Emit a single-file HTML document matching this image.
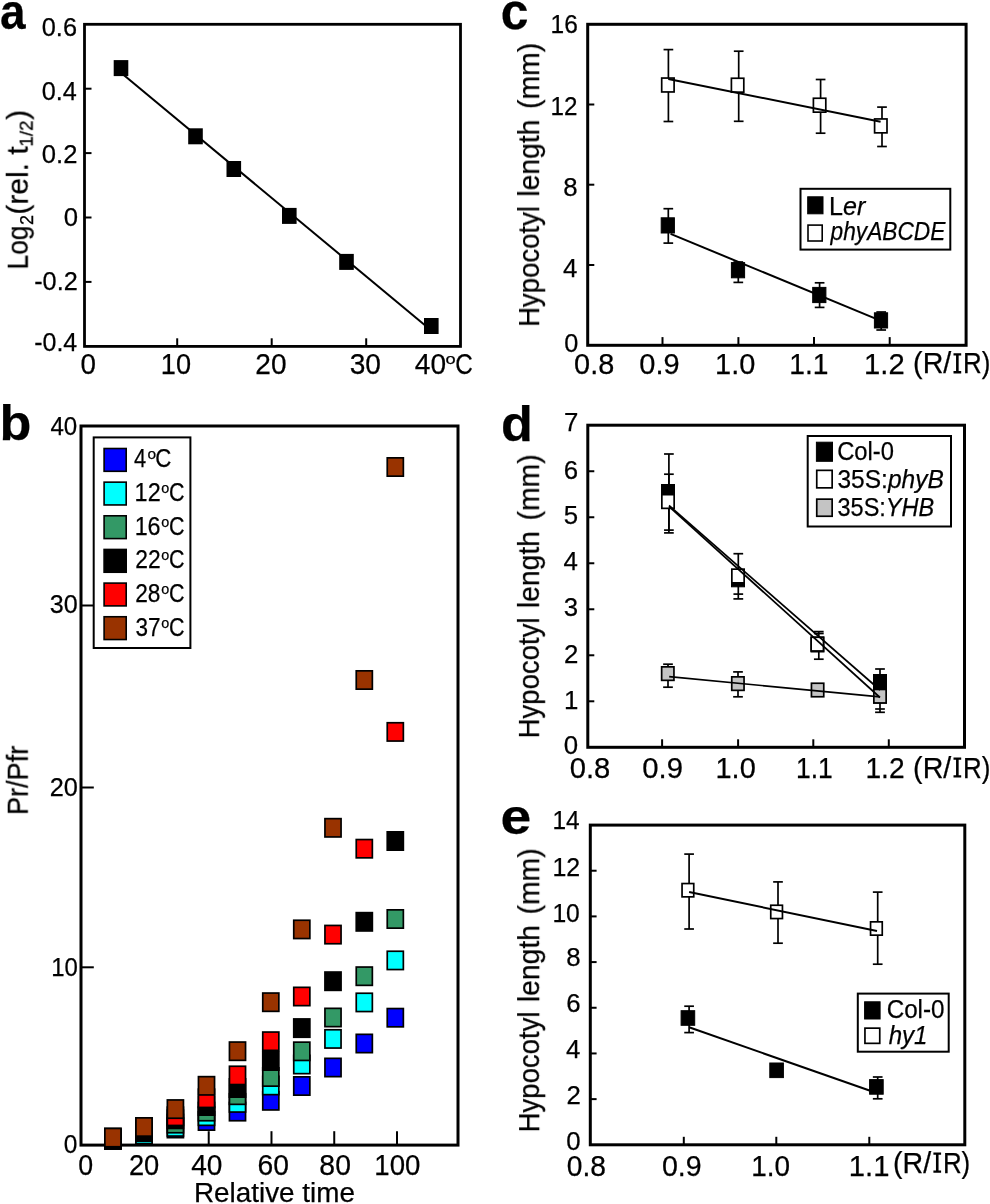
<!DOCTYPE html>
<html><head><meta charset="utf-8"><title>Figure</title>
<style>html,body{margin:0;padding:0;background:#fff;overflow:hidden;} svg{display:block;} text{will-change:transform;stroke:#000;stroke-width:0.25px;}</style></head>
<body><svg width="990" height="1204" viewBox="0 0 990 1204" font-family='"Liberation Sans", sans-serif' fill="#000">
<rect x="0" y="0" width="990" height="1204" fill="#fff"/>
<text x="0.05" y="28.61" font-size="50.56" font-weight="bold" textLength="25.55" lengthAdjust="spacingAndGlyphs"><tspan font-weight="bold">a</tspan></text>
<rect x="84.50" y="24.30" width="376.00" height="322.10" fill="none" stroke="#000" stroke-width="2.8"/>
<line x1="84.50" y1="88.70" x2="91.50" y2="88.70" stroke="#000" stroke-width="2"/>
<line x1="84.50" y1="153.10" x2="91.50" y2="153.10" stroke="#000" stroke-width="2"/>
<line x1="84.50" y1="217.50" x2="91.50" y2="217.50" stroke="#000" stroke-width="2"/>
<line x1="84.50" y1="281.90" x2="91.50" y2="281.90" stroke="#000" stroke-width="2"/>
<line x1="177.20" y1="346.40" x2="177.20" y2="338.30" stroke="#000" stroke-width="2"/>
<line x1="271.70" y1="346.40" x2="271.70" y2="338.30" stroke="#000" stroke-width="2"/>
<line x1="366.20" y1="346.40" x2="366.20" y2="338.30" stroke="#000" stroke-width="2"/>
<text x="41.81" y="36.00" font-size="25.80" textLength="35.20" lengthAdjust="spacingAndGlyphs">0.6</text>
<text x="41.82" y="99.50" font-size="25.80" textLength="35.02" lengthAdjust="spacingAndGlyphs">0.4</text>
<text x="41.80" y="162.80" font-size="25.80" textLength="35.59" lengthAdjust="spacingAndGlyphs">0.2</text>
<text x="63.79" y="225.90" font-size="25.80" textLength="14.31" lengthAdjust="spacingAndGlyphs">0</text>
<text x="34.18" y="289.60" font-size="25.80" textLength="43.60" lengthAdjust="spacingAndGlyphs">-0.2</text>
<text x="34.19" y="351.30" font-size="25.80" textLength="43.04" lengthAdjust="spacingAndGlyphs">-0.4</text>
<text x="80.41" y="373.50" font-size="29.00" textLength="15.47" lengthAdjust="spacingAndGlyphs">0</text>
<text x="160.83" y="373.50" font-size="29.00" textLength="30.23" lengthAdjust="spacingAndGlyphs">10</text>
<text x="255.29" y="373.50" font-size="29.00" textLength="31.21" lengthAdjust="spacingAndGlyphs">20</text>
<text x="349.73" y="373.50" font-size="29.00" textLength="31.27" lengthAdjust="spacingAndGlyphs">30</text>
<text x="414.86" y="373.50" font-size="29.00" textLength="31.24" lengthAdjust="spacingAndGlyphs">40</text>
<text x="445.64" y="364.36" font-size="14.05" textLength="10.13" lengthAdjust="spacingAndGlyphs">o</text>
<text x="455.17" y="373.50" font-size="29.00" textLength="17.56" lengthAdjust="spacingAndGlyphs">C</text>
<g transform="translate(27.70,267.20) rotate(-90)"><text x="-2.15" y="0" font-size="29.80" textLength="43.63" lengthAdjust="spacingAndGlyphs">Log</text></g>
<g transform="translate(33.00,224.00) rotate(-90)"><text x="-0.91" y="0" font-size="18.40" textLength="10.01" lengthAdjust="spacingAndGlyphs">2</text></g>
<g transform="translate(27.70,212.90) rotate(-90)"><text x="-1.86" y="0" font-size="29.80" textLength="68.48" lengthAdjust="spacingAndGlyphs">(rel. t</text></g>
<g transform="translate(32.60,145.20) rotate(-90)"><text x="-1.43" y="0" font-size="18.40" textLength="26.18" lengthAdjust="spacingAndGlyphs">1/2</text></g>
<g transform="translate(27.70,119.60) rotate(-90)"><text x="-0.18" y="0" font-size="29.80" textLength="10.05" lengthAdjust="spacingAndGlyphs">)</text></g>
<line x1="121.00" y1="72.70" x2="431.30" y2="330.50" stroke="#000" stroke-width="2"/>
<rect x="113.70" y="60.10" width="14.6" height="16" fill="#000"/>
<rect x="188.20" y="128.30" width="14.6" height="16" fill="#000"/>
<rect x="226.50" y="161.00" width="14.6" height="16" fill="#000"/>
<rect x="282.00" y="207.90" width="14.6" height="16" fill="#000"/>
<rect x="339.20" y="253.90" width="14.6" height="16" fill="#000"/>
<rect x="424.00" y="318.00" width="14.6" height="16" fill="#000"/>
<text x="-0.44" y="440.42" font-size="49.57" font-weight="bold" textLength="31.88" lengthAdjust="spacingAndGlyphs"><tspan font-weight="bold">b</tspan></text>
<rect x="81.00" y="426.00" width="377.00" height="719.10" fill="none" stroke="#000" stroke-width="3"/>
<line x1="81.20" y1="967.30" x2="93.80" y2="967.30" stroke="#000" stroke-width="2"/>
<line x1="81.20" y1="787.50" x2="93.80" y2="787.50" stroke="#000" stroke-width="2"/>
<line x1="81.20" y1="605.50" x2="93.80" y2="605.50" stroke="#000" stroke-width="2"/>
<line x1="145.96" y1="1145.10" x2="145.96" y2="1131.20" stroke="#000" stroke-width="2"/>
<line x1="208.72" y1="1145.10" x2="208.72" y2="1131.20" stroke="#000" stroke-width="2"/>
<line x1="271.48" y1="1145.10" x2="271.48" y2="1131.20" stroke="#000" stroke-width="2"/>
<line x1="334.24" y1="1145.10" x2="334.24" y2="1131.20" stroke="#000" stroke-width="2"/>
<line x1="397.00" y1="1145.10" x2="397.00" y2="1131.20" stroke="#000" stroke-width="2"/>
<text x="50.45" y="435.40" font-size="25.80" textLength="26.79" lengthAdjust="spacingAndGlyphs">40</text>
<text x="49.84" y="612.70" font-size="25.80" textLength="27.94" lengthAdjust="spacingAndGlyphs">30</text>
<text x="49.73" y="795.90" font-size="25.80" textLength="28.16" lengthAdjust="spacingAndGlyphs">20</text>
<text x="51.17" y="976.30" font-size="25.80" textLength="26.66" lengthAdjust="spacingAndGlyphs">10</text>
<text x="63.74" y="1152.50" font-size="25.80" textLength="13.61" lengthAdjust="spacingAndGlyphs">0</text>
<text x="78.35" y="1175.20" font-size="29.00" textLength="14.89" lengthAdjust="spacingAndGlyphs">0</text>
<text x="128.93" y="1175.20" font-size="29.00" textLength="30.34" lengthAdjust="spacingAndGlyphs">20</text>
<text x="191.26" y="1175.20" font-size="29.00" textLength="31.24" lengthAdjust="spacingAndGlyphs">40</text>
<text x="257.46" y="1175.20" font-size="29.00" textLength="31.44" lengthAdjust="spacingAndGlyphs">60</text>
<text x="319.37" y="1175.20" font-size="29.00" textLength="31.54" lengthAdjust="spacingAndGlyphs">80</text>
<text x="374.30" y="1175.20" font-size="29.00" textLength="46.08" lengthAdjust="spacingAndGlyphs">100</text>
<text x="193.91" y="1202.10" font-size="27.30" textLength="161.02" lengthAdjust="spacingAndGlyphs">Relative time</text>
<g transform="translate(27.70,812.70) rotate(-90)"><text x="-2.22" y="0" font-size="29.80" textLength="69.17" lengthAdjust="spacingAndGlyphs">Pr/Pfr</text></g>
<rect x="93.70" y="437.40" width="96.70" height="210.60" fill="#fff" stroke="#000" stroke-width="2"/>
<rect x="104.10" y="448.50" width="22.10" height="22.80" fill="#0000ff" stroke="#000" stroke-width="1.6"/>
<text x="134.00" y="467.40" font-size="25.80" textLength="12.14" lengthAdjust="spacingAndGlyphs">4</text>
<text x="147.55" y="459.36" font-size="14.05" textLength="8.60" lengthAdjust="spacingAndGlyphs">o</text>
<text x="155.27" y="467.40" font-size="25.80" textLength="16.08" lengthAdjust="spacingAndGlyphs">C</text>
<rect x="104.10" y="482.15" width="22.10" height="22.80" fill="#00ffff" stroke="#000" stroke-width="1.6"/>
<text x="134.62" y="501.05" font-size="25.80" textLength="26.06" lengthAdjust="spacingAndGlyphs">12</text>
<text x="161.20" y="493.01" font-size="14.05" textLength="8.01" lengthAdjust="spacingAndGlyphs">o</text>
<text x="168.91" y="501.05" font-size="25.80" textLength="15.51" lengthAdjust="spacingAndGlyphs">C</text>
<rect x="104.10" y="515.80" width="22.10" height="22.80" fill="#339966" stroke="#000" stroke-width="1.6"/>
<text x="134.63" y="534.70" font-size="25.80" textLength="25.90" lengthAdjust="spacingAndGlyphs">16</text>
<text x="161.20" y="526.66" font-size="14.05" textLength="8.01" lengthAdjust="spacingAndGlyphs">o</text>
<text x="168.91" y="534.70" font-size="25.80" textLength="15.51" lengthAdjust="spacingAndGlyphs">C</text>
<rect x="104.10" y="549.45" width="22.10" height="22.80" fill="#000000" stroke="#000" stroke-width="1.6"/>
<text x="135.25" y="568.35" font-size="25.80" textLength="25.40" lengthAdjust="spacingAndGlyphs">22</text>
<text x="161.20" y="560.31" font-size="14.05" textLength="8.01" lengthAdjust="spacingAndGlyphs">o</text>
<text x="168.91" y="568.35" font-size="25.80" textLength="15.51" lengthAdjust="spacingAndGlyphs">C</text>
<rect x="104.10" y="583.10" width="22.10" height="22.80" fill="#ff0000" stroke="#000" stroke-width="1.6"/>
<text x="135.26" y="602.00" font-size="25.80" textLength="25.23" lengthAdjust="spacingAndGlyphs">28</text>
<text x="161.20" y="593.96" font-size="14.05" textLength="8.01" lengthAdjust="spacingAndGlyphs">o</text>
<text x="168.91" y="602.00" font-size="25.80" textLength="15.51" lengthAdjust="spacingAndGlyphs">C</text>
<rect x="104.10" y="616.75" width="22.10" height="22.80" fill="#993300" stroke="#000" stroke-width="1.6"/>
<text x="135.54" y="635.65" font-size="25.80" textLength="25.09" lengthAdjust="spacingAndGlyphs">37</text>
<text x="161.20" y="627.61" font-size="14.05" textLength="8.01" lengthAdjust="spacingAndGlyphs">o</text>
<text x="168.91" y="635.65" font-size="25.80" textLength="15.51" lengthAdjust="spacingAndGlyphs">C</text>
<rect x="104.85" y="1130.55" width="16.10" height="18.30" fill="#0000ff" stroke="#000" stroke-width="1.7"/>
<rect x="135.95" y="1125.85" width="16.10" height="18.30" fill="#0000ff" stroke="#000" stroke-width="1.7"/>
<rect x="167.35" y="1119.35" width="16.10" height="18.30" fill="#0000ff" stroke="#000" stroke-width="1.7"/>
<rect x="198.45" y="1111.85" width="16.10" height="18.30" fill="#0000ff" stroke="#000" stroke-width="1.7"/>
<rect x="229.45" y="1102.45" width="16.10" height="18.30" fill="#0000ff" stroke="#000" stroke-width="1.7"/>
<rect x="262.75" y="1091.65" width="16.10" height="18.30" fill="#0000ff" stroke="#000" stroke-width="1.7"/>
<rect x="293.75" y="1076.85" width="16.10" height="18.30" fill="#0000ff" stroke="#000" stroke-width="1.7"/>
<rect x="324.95" y="1058.35" width="16.10" height="18.30" fill="#0000ff" stroke="#000" stroke-width="1.7"/>
<rect x="356.25" y="1034.35" width="16.10" height="18.30" fill="#0000ff" stroke="#000" stroke-width="1.7"/>
<rect x="387.25" y="1008.55" width="16.10" height="18.30" fill="#0000ff" stroke="#000" stroke-width="1.7"/>
<rect x="104.85" y="1130.55" width="16.10" height="18.30" fill="#00ffff" stroke="#000" stroke-width="1.7"/>
<rect x="135.95" y="1125.25" width="16.10" height="18.30" fill="#00ffff" stroke="#000" stroke-width="1.7"/>
<rect x="167.35" y="1117.75" width="16.10" height="18.30" fill="#00ffff" stroke="#000" stroke-width="1.7"/>
<rect x="198.45" y="1107.05" width="16.10" height="18.30" fill="#00ffff" stroke="#000" stroke-width="1.7"/>
<rect x="229.45" y="1093.75" width="16.10" height="18.30" fill="#00ffff" stroke="#000" stroke-width="1.7"/>
<rect x="262.75" y="1076.35" width="16.10" height="18.30" fill="#00ffff" stroke="#000" stroke-width="1.7"/>
<rect x="293.75" y="1055.35" width="16.10" height="18.30" fill="#00ffff" stroke="#000" stroke-width="1.7"/>
<rect x="324.95" y="1029.75" width="16.10" height="18.30" fill="#00ffff" stroke="#000" stroke-width="1.7"/>
<rect x="356.25" y="993.25" width="16.10" height="18.30" fill="#00ffff" stroke="#000" stroke-width="1.7"/>
<rect x="387.25" y="951.25" width="16.10" height="18.30" fill="#00ffff" stroke="#000" stroke-width="1.7"/>
<rect x="104.85" y="1130.55" width="16.10" height="18.30" fill="#339966" stroke="#000" stroke-width="1.7"/>
<rect x="135.95" y="1122.75" width="16.10" height="18.30" fill="#339966" stroke="#000" stroke-width="1.7"/>
<rect x="167.35" y="1114.45" width="16.10" height="18.30" fill="#339966" stroke="#000" stroke-width="1.7"/>
<rect x="198.45" y="1102.45" width="16.10" height="18.30" fill="#339966" stroke="#000" stroke-width="1.7"/>
<rect x="229.45" y="1086.05" width="16.10" height="18.30" fill="#339966" stroke="#000" stroke-width="1.7"/>
<rect x="262.75" y="1067.85" width="16.10" height="18.30" fill="#339966" stroke="#000" stroke-width="1.7"/>
<rect x="293.75" y="1042.15" width="16.10" height="18.30" fill="#339966" stroke="#000" stroke-width="1.7"/>
<rect x="324.95" y="1008.35" width="16.10" height="18.30" fill="#339966" stroke="#000" stroke-width="1.7"/>
<rect x="356.25" y="967.05" width="16.10" height="18.30" fill="#339966" stroke="#000" stroke-width="1.7"/>
<rect x="387.25" y="909.85" width="16.10" height="18.30" fill="#339966" stroke="#000" stroke-width="1.7"/>
<rect x="104.85" y="1130.55" width="16.10" height="18.30" fill="#000000" stroke="#000" stroke-width="1.7"/>
<rect x="135.95" y="1122.75" width="16.10" height="18.30" fill="#000000" stroke="#000" stroke-width="1.7"/>
<rect x="167.35" y="1110.15" width="16.10" height="18.30" fill="#000000" stroke="#000" stroke-width="1.7"/>
<rect x="198.45" y="1096.85" width="16.10" height="18.30" fill="#000000" stroke="#000" stroke-width="1.7"/>
<rect x="229.45" y="1078.85" width="16.10" height="18.30" fill="#000000" stroke="#000" stroke-width="1.7"/>
<rect x="262.75" y="1051.85" width="16.10" height="18.30" fill="#000000" stroke="#000" stroke-width="1.7"/>
<rect x="293.75" y="1018.95" width="16.10" height="18.30" fill="#000000" stroke="#000" stroke-width="1.7"/>
<rect x="324.95" y="972.05" width="16.10" height="18.30" fill="#000000" stroke="#000" stroke-width="1.7"/>
<rect x="356.25" y="912.65" width="16.10" height="18.30" fill="#000000" stroke="#000" stroke-width="1.7"/>
<rect x="387.25" y="831.85" width="16.10" height="18.30" fill="#000000" stroke="#000" stroke-width="1.7"/>
<rect x="104.85" y="1128.45" width="16.10" height="18.30" fill="#ff0000" stroke="#000" stroke-width="1.7"/>
<rect x="135.95" y="1117.85" width="16.10" height="18.30" fill="#ff0000" stroke="#000" stroke-width="1.7"/>
<rect x="167.35" y="1107.15" width="16.10" height="18.30" fill="#ff0000" stroke="#000" stroke-width="1.7"/>
<rect x="198.45" y="1089.15" width="16.10" height="18.30" fill="#ff0000" stroke="#000" stroke-width="1.7"/>
<rect x="229.45" y="1066.25" width="16.10" height="18.30" fill="#ff0000" stroke="#000" stroke-width="1.7"/>
<rect x="262.75" y="1032.05" width="16.10" height="18.30" fill="#ff0000" stroke="#000" stroke-width="1.7"/>
<rect x="293.75" y="987.35" width="16.10" height="18.30" fill="#ff0000" stroke="#000" stroke-width="1.7"/>
<rect x="324.95" y="925.45" width="16.10" height="18.30" fill="#ff0000" stroke="#000" stroke-width="1.7"/>
<rect x="356.25" y="839.55" width="16.10" height="18.30" fill="#ff0000" stroke="#000" stroke-width="1.7"/>
<rect x="387.25" y="722.75" width="16.10" height="18.30" fill="#ff0000" stroke="#000" stroke-width="1.7"/>
<rect x="104.85" y="1128.45" width="16.10" height="18.30" fill="#993300" stroke="#000" stroke-width="1.7"/>
<rect x="135.95" y="1117.85" width="16.10" height="18.30" fill="#993300" stroke="#000" stroke-width="1.7"/>
<rect x="167.35" y="1099.95" width="16.10" height="18.30" fill="#993300" stroke="#000" stroke-width="1.7"/>
<rect x="198.45" y="1076.65" width="16.10" height="18.30" fill="#993300" stroke="#000" stroke-width="1.7"/>
<rect x="229.45" y="1042.05" width="16.10" height="18.30" fill="#993300" stroke="#000" stroke-width="1.7"/>
<rect x="262.75" y="993.05" width="16.10" height="18.30" fill="#993300" stroke="#000" stroke-width="1.7"/>
<rect x="293.75" y="920.25" width="16.10" height="18.30" fill="#993300" stroke="#000" stroke-width="1.7"/>
<rect x="324.95" y="818.65" width="16.10" height="18.30" fill="#993300" stroke="#000" stroke-width="1.7"/>
<rect x="356.25" y="670.85" width="16.10" height="18.30" fill="#993300" stroke="#000" stroke-width="1.7"/>
<rect x="387.25" y="457.85" width="16.10" height="18.30" fill="#993300" stroke="#000" stroke-width="1.7"/>
<text x="500.75" y="28.60" font-size="50.93" font-weight="bold" textLength="27.71" lengthAdjust="spacingAndGlyphs"><tspan font-weight="bold">c</tspan></text>
<rect x="587.70" y="24.30" width="378.40" height="321.00" fill="none" stroke="#000" stroke-width="3"/>
<line x1="662.50" y1="345.30" x2="662.50" y2="337.10" stroke="#000" stroke-width="2"/>
<line x1="738.40" y1="345.30" x2="738.40" y2="337.10" stroke="#000" stroke-width="2"/>
<line x1="814.00" y1="345.30" x2="814.00" y2="337.10" stroke="#000" stroke-width="2"/>
<line x1="889.70" y1="345.30" x2="889.70" y2="337.10" stroke="#000" stroke-width="2"/>
<line x1="587.70" y1="104.50" x2="594.30" y2="104.50" stroke="#000" stroke-width="2"/>
<line x1="587.70" y1="184.70" x2="594.30" y2="184.70" stroke="#000" stroke-width="2"/>
<line x1="587.70" y1="265.00" x2="594.30" y2="265.00" stroke="#000" stroke-width="2"/>
<text x="550.53" y="32.70" font-size="25.80" textLength="27.24" lengthAdjust="spacingAndGlyphs">16</text>
<text x="550.55" y="114.80" font-size="25.80" textLength="26.97" lengthAdjust="spacingAndGlyphs">12</text>
<text x="563.27" y="195.80" font-size="25.80" >8</text>
<text x="562.91" y="276.80" font-size="25.80" >4</text>
<text x="564.31" y="351.70" font-size="25.80" textLength="14.08" lengthAdjust="spacingAndGlyphs">0</text>
<text x="574.07" y="373.90" font-size="29.00" textLength="40.19" lengthAdjust="spacingAndGlyphs">0.8</text>
<text x="639.27" y="373.90" font-size="29.00" textLength="40.31" lengthAdjust="spacingAndGlyphs">0.9</text>
<text x="715.10" y="373.90" font-size="29.00" textLength="40.24" lengthAdjust="spacingAndGlyphs">1.0</text>
<text x="789.35" y="373.90" font-size="29.00" textLength="39.23" lengthAdjust="spacingAndGlyphs">1.1</text>
<text x="864.08" y="373.90" font-size="29.00" textLength="40.59" lengthAdjust="spacingAndGlyphs">1.2</text>
<text x="913.12" y="373.40" font-size="29.00" textLength="38.18" lengthAdjust="spacingAndGlyphs">(R/</text>
<path d="M953.50,353.20h7.7v2.3h-2.55v15.60h2.55v2.3h-7.7v-2.3h2.55v-15.60h-2.55z" fill="#000"/>
<text x="962.98" y="373.40" font-size="29.00" textLength="27.33" lengthAdjust="spacingAndGlyphs">R)</text>
<g transform="translate(539.00,324.60) rotate(-90)"><text x="-2.26" y="0" font-size="29.80" textLength="120.80" lengthAdjust="spacingAndGlyphs">Hypocotyl</text></g>
<g transform="translate(539.00,194.60) rotate(-90)"><text x="-1.90" y="0" font-size="29.80" textLength="76.83" lengthAdjust="spacingAndGlyphs">length</text></g>
<g transform="translate(539.00,107.20) rotate(-90)"><text x="-1.76" y="0" font-size="29.80" textLength="66.12" lengthAdjust="spacingAndGlyphs">(mm)</text></g>
<line x1="668.40" y1="49.60" x2="668.40" y2="121.50" stroke="#000" stroke-width="1.7"/>
<line x1="663.55" y1="49.60" x2="673.25" y2="49.60" stroke="#000" stroke-width="1.7"/>
<line x1="663.55" y1="121.50" x2="673.25" y2="121.50" stroke="#000" stroke-width="1.7"/>
<line x1="738.70" y1="51.20" x2="738.70" y2="121.30" stroke="#000" stroke-width="1.7"/>
<line x1="733.85" y1="51.20" x2="743.55" y2="51.20" stroke="#000" stroke-width="1.7"/>
<line x1="733.85" y1="121.30" x2="743.55" y2="121.30" stroke="#000" stroke-width="1.7"/>
<line x1="820.60" y1="79.50" x2="820.60" y2="133.20" stroke="#000" stroke-width="1.7"/>
<line x1="815.75" y1="79.50" x2="825.45" y2="79.50" stroke="#000" stroke-width="1.7"/>
<line x1="815.75" y1="133.20" x2="825.45" y2="133.20" stroke="#000" stroke-width="1.7"/>
<line x1="882.00" y1="107.10" x2="882.00" y2="146.50" stroke="#000" stroke-width="1.7"/>
<line x1="877.15" y1="107.10" x2="886.85" y2="107.10" stroke="#000" stroke-width="1.7"/>
<line x1="877.15" y1="146.50" x2="886.85" y2="146.50" stroke="#000" stroke-width="1.7"/>
<rect x="661.70" y="78.05" width="12.40" height="13.90" fill="#fff" stroke="#000" stroke-width="1.7"/>
<rect x="731.40" y="78.25" width="12.40" height="13.90" fill="#fff" stroke="#000" stroke-width="1.7"/>
<rect x="813.40" y="98.25" width="12.40" height="13.90" fill="#fff" stroke="#000" stroke-width="1.7"/>
<rect x="874.60" y="118.95" width="12.40" height="13.90" fill="#fff" stroke="#000" stroke-width="1.7"/>
<line x1="668.30" y1="78.90" x2="880.60" y2="121.70" stroke="#000" stroke-width="2"/>
<line x1="668.30" y1="208.70" x2="668.30" y2="243.10" stroke="#000" stroke-width="1.7"/>
<line x1="663.45" y1="208.70" x2="673.15" y2="208.70" stroke="#000" stroke-width="1.7"/>
<line x1="663.45" y1="243.10" x2="673.15" y2="243.10" stroke="#000" stroke-width="1.7"/>
<line x1="738.30" y1="262.00" x2="738.30" y2="282.40" stroke="#000" stroke-width="1.7"/>
<line x1="733.45" y1="262.00" x2="743.15" y2="262.00" stroke="#000" stroke-width="1.7"/>
<line x1="733.45" y1="282.40" x2="743.15" y2="282.40" stroke="#000" stroke-width="1.7"/>
<line x1="819.60" y1="282.80" x2="819.60" y2="307.40" stroke="#000" stroke-width="1.7"/>
<line x1="814.75" y1="282.80" x2="824.45" y2="282.80" stroke="#000" stroke-width="1.7"/>
<line x1="814.75" y1="307.40" x2="824.45" y2="307.40" stroke="#000" stroke-width="1.7"/>
<line x1="881.20" y1="312.00" x2="881.20" y2="330.00" stroke="#000" stroke-width="1.7"/>
<line x1="876.35" y1="312.00" x2="886.05" y2="312.00" stroke="#000" stroke-width="1.7"/>
<line x1="876.35" y1="330.00" x2="886.05" y2="330.00" stroke="#000" stroke-width="1.7"/>
<rect x="661.20" y="217.80" width="13.20" height="15.20" fill="#000" stroke="#000" stroke-width="1.0"/>
<rect x="731.40" y="262.60" width="13.20" height="15.20" fill="#000" stroke="#000" stroke-width="1.0"/>
<rect x="812.70" y="287.40" width="13.20" height="15.20" fill="#000" stroke="#000" stroke-width="1.0"/>
<rect x="874.40" y="312.80" width="13.20" height="15.20" fill="#000" stroke="#000" stroke-width="1.0"/>
<line x1="670.60" y1="233.90" x2="878.00" y2="319.60" stroke="#000" stroke-width="2"/>
<rect x="800.50" y="188.80" width="149.80" height="60.80" fill="#fff" stroke="#000" stroke-width="2"/>
<rect x="807.70" y="196.80" width="15.30" height="17.00" fill="#000" stroke="#000" stroke-width="1"/>
<rect x="808.00" y="225.10" width="14.20" height="15.90" fill="#fff" stroke="#000" stroke-width="1.6"/>
<text x="829.04" y="215.30" font-size="25.80" textLength="36.31" lengthAdjust="spacingAndGlyphs">L<tspan font-style="italic">er</tspan></text>
<text x="830.57" y="240.00" font-size="25.80" font-style="italic" textLength="114.82" lengthAdjust="spacingAndGlyphs"><tspan font-style="italic">phyABCDE</tspan></text>
<text x="500.96" y="440.71" font-size="50.38" font-weight="bold" textLength="31.88" lengthAdjust="spacingAndGlyphs"><tspan font-weight="bold">d</tspan></text>
<rect x="587.80" y="425.20" width="376.70" height="322.10" fill="none" stroke="#000" stroke-width="3"/>
<line x1="662.10" y1="747.30" x2="662.10" y2="739.30" stroke="#000" stroke-width="2"/>
<line x1="738.10" y1="747.30" x2="738.10" y2="739.30" stroke="#000" stroke-width="2"/>
<line x1="813.30" y1="747.30" x2="813.30" y2="739.30" stroke="#000" stroke-width="2"/>
<line x1="888.80" y1="747.30" x2="888.80" y2="739.30" stroke="#000" stroke-width="2"/>
<line x1="587.80" y1="701.29" x2="594.30" y2="701.29" stroke="#000" stroke-width="2"/>
<line x1="587.80" y1="655.28" x2="594.30" y2="655.28" stroke="#000" stroke-width="2"/>
<line x1="587.80" y1="609.27" x2="594.30" y2="609.27" stroke="#000" stroke-width="2"/>
<line x1="587.80" y1="563.26" x2="594.30" y2="563.26" stroke="#000" stroke-width="2"/>
<line x1="587.80" y1="517.25" x2="594.30" y2="517.25" stroke="#000" stroke-width="2"/>
<line x1="587.80" y1="471.24" x2="594.30" y2="471.24" stroke="#000" stroke-width="2"/>
<text x="563.66" y="754.40" font-size="25.80" >0</text>
<text x="563.91" y="708.60" font-size="25.80" >1</text>
<text x="563.95" y="662.60" font-size="25.80" >2</text>
<text x="563.79" y="615.90" font-size="25.80" >3</text>
<text x="563.41" y="570.40" font-size="25.80" >4</text>
<text x="563.73" y="524.10" font-size="25.80" >5</text>
<text x="563.79" y="479.20" font-size="25.80" >6</text>
<text x="563.95" y="431.40" font-size="25.80" >7</text>
<text x="569.76" y="777.60" font-size="29.00" textLength="40.61" lengthAdjust="spacingAndGlyphs">0.8</text>
<text x="642.26" y="777.60" font-size="29.00" textLength="40.73" lengthAdjust="spacingAndGlyphs">0.9</text>
<text x="715.50" y="777.60" font-size="29.00" textLength="40.24" lengthAdjust="spacingAndGlyphs">1.0</text>
<text x="795.98" y="777.60" font-size="29.00" textLength="36.81" lengthAdjust="spacingAndGlyphs">1.1</text>
<text x="865.45" y="777.60" font-size="29.00" textLength="39.16" lengthAdjust="spacingAndGlyphs">1.2</text>
<text x="913.12" y="777.60" font-size="29.00" textLength="38.18" lengthAdjust="spacingAndGlyphs">(R/</text>
<path d="M953.50,757.40h7.7v2.3h-2.55v15.60h2.55v2.3h-7.7v-2.3h2.55v-15.60h-2.55z" fill="#000"/>
<text x="962.98" y="777.60" font-size="29.00" textLength="27.33" lengthAdjust="spacingAndGlyphs">R)</text>
<g transform="translate(538.90,736.10) rotate(-90)"><text x="-2.26" y="0" font-size="29.80" textLength="120.80" lengthAdjust="spacingAndGlyphs">Hypocotyl</text></g>
<g transform="translate(538.90,606.10) rotate(-90)"><text x="-1.90" y="0" font-size="29.80" textLength="76.83" lengthAdjust="spacingAndGlyphs">length</text></g>
<g transform="translate(538.90,518.70) rotate(-90)"><text x="-1.76" y="0" font-size="29.80" textLength="66.12" lengthAdjust="spacingAndGlyphs">(mm)</text></g>
<line x1="668.90" y1="454.00" x2="668.90" y2="530.10" stroke="#000" stroke-width="1.7"/>
<line x1="664.05" y1="454.00" x2="673.75" y2="454.00" stroke="#000" stroke-width="1.7"/>
<line x1="664.05" y1="530.10" x2="673.75" y2="530.10" stroke="#000" stroke-width="1.7"/>
<line x1="668.90" y1="474.20" x2="668.90" y2="532.90" stroke="#000" stroke-width="1.7"/>
<line x1="664.05" y1="474.20" x2="673.75" y2="474.20" stroke="#000" stroke-width="1.7"/>
<line x1="664.05" y1="532.90" x2="673.75" y2="532.90" stroke="#000" stroke-width="1.7"/>
<line x1="738.30" y1="553.70" x2="738.30" y2="594.10" stroke="#000" stroke-width="1.7"/>
<line x1="733.45" y1="553.70" x2="743.15" y2="553.70" stroke="#000" stroke-width="1.7"/>
<line x1="733.45" y1="594.10" x2="743.15" y2="594.10" stroke="#000" stroke-width="1.7"/>
<line x1="733.40" y1="598.90" x2="743.20" y2="598.90" stroke="#000" stroke-width="1.7"/>
<line x1="738.30" y1="594.00" x2="738.30" y2="598.90" stroke="#000" stroke-width="1.7"/>
<line x1="818.80" y1="631.60" x2="818.80" y2="659.20" stroke="#000" stroke-width="1.7"/>
<line x1="813.95" y1="631.60" x2="823.65" y2="631.60" stroke="#000" stroke-width="1.7"/>
<line x1="813.95" y1="659.20" x2="823.65" y2="659.20" stroke="#000" stroke-width="1.7"/>
<line x1="813.90" y1="633.50" x2="823.70" y2="633.50" stroke="#000" stroke-width="1.7"/>
<line x1="880.00" y1="669.00" x2="880.00" y2="709.00" stroke="#000" stroke-width="1.7"/>
<line x1="875.15" y1="669.00" x2="884.85" y2="669.00" stroke="#000" stroke-width="1.7"/>
<line x1="875.15" y1="709.00" x2="884.85" y2="709.00" stroke="#000" stroke-width="1.7"/>
<line x1="875.10" y1="712.30" x2="884.90" y2="712.30" stroke="#000" stroke-width="1.7"/>
<line x1="880.00" y1="709.00" x2="880.00" y2="712.30" stroke="#000" stroke-width="1.7"/>
<line x1="668.00" y1="664.20" x2="668.00" y2="687.20" stroke="#000" stroke-width="1.7"/>
<line x1="663.15" y1="664.20" x2="672.85" y2="664.20" stroke="#000" stroke-width="1.7"/>
<line x1="663.15" y1="687.20" x2="672.85" y2="687.20" stroke="#000" stroke-width="1.7"/>
<line x1="738.00" y1="671.90" x2="738.00" y2="696.80" stroke="#000" stroke-width="1.7"/>
<line x1="733.15" y1="671.90" x2="742.85" y2="671.90" stroke="#000" stroke-width="1.7"/>
<line x1="733.15" y1="696.80" x2="742.85" y2="696.80" stroke="#000" stroke-width="1.7"/>
<line x1="817.60" y1="684.00" x2="817.60" y2="696.00" stroke="#000" stroke-width="1.7"/>
<line x1="812.75" y1="684.00" x2="822.45" y2="684.00" stroke="#000" stroke-width="1.7"/>
<line x1="812.75" y1="696.00" x2="822.45" y2="696.00" stroke="#000" stroke-width="1.7"/>
<rect x="661.50" y="484.50" width="13.00" height="15.00" fill="#000" stroke="#000" stroke-width="1.0"/>
<rect x="731.50" y="571.80" width="13.00" height="15.00" fill="#000" stroke="#000" stroke-width="1.0"/>
<rect x="811.00" y="637.00" width="13.00" height="15.00" fill="#000" stroke="#000" stroke-width="1.0"/>
<rect x="873.50" y="674.50" width="13.00" height="15.00" fill="#000" stroke="#000" stroke-width="1.0"/>
<rect x="661.85" y="494.65" width="12.30" height="13.70" fill="#fff" stroke="#000" stroke-width="1.7"/>
<rect x="731.85" y="569.15" width="12.30" height="13.70" fill="#fff" stroke="#000" stroke-width="1.7"/>
<rect x="811.15" y="637.25" width="12.30" height="13.70" fill="#fff" stroke="#000" stroke-width="1.7"/>
<rect x="873.85" y="689.15" width="12.30" height="13.70" fill="#fff" stroke="#000" stroke-width="1.7"/>
<rect x="661.65" y="666.85" width="12.30" height="13.50" fill="#c4c4c4" stroke="#000" stroke-width="1.7"/>
<rect x="731.75" y="676.85" width="12.30" height="13.50" fill="#c4c4c4" stroke="#000" stroke-width="1.7"/>
<rect x="811.45" y="683.25" width="12.30" height="13.50" fill="#c4c4c4" stroke="#000" stroke-width="1.7"/>
<rect x="873.85" y="689.45" width="12.30" height="13.50" fill="#c4c4c4" stroke="#000" stroke-width="1.7"/>
<line x1="669.00" y1="505.50" x2="880.00" y2="690.00" stroke="#000" stroke-width="1.7"/>
<line x1="669.00" y1="506.50" x2="880.00" y2="697.50" stroke="#000" stroke-width="1.7"/>
<line x1="669.20" y1="676.70" x2="880.00" y2="696.80" stroke="#000" stroke-width="1.7"/>
<rect x="807.70" y="436.00" width="143.30" height="90.50" fill="#fff" stroke="#000" stroke-width="2"/>
<rect x="816.40" y="442.20" width="16.10" height="19.10" fill="#000" stroke="#000" stroke-width="1"/>
<rect x="816.75" y="470.35" width="15.40" height="17.50" fill="#fff" stroke="#000" stroke-width="1.7"/>
<rect x="816.75" y="499.15" width="15.40" height="17.10" fill="#c4c4c4" stroke="#000" stroke-width="1.7"/>
<text x="837.19" y="460.30" font-size="25.80" textLength="56.84" lengthAdjust="spacingAndGlyphs">Col-0</text>
<text x="837.47" y="487.70" font-size="25.80" textLength="106.37" lengthAdjust="spacingAndGlyphs">35S:<tspan font-style="italic">phyB</tspan></text>
<text x="837.50" y="515.60" font-size="25.80" textLength="96.70" lengthAdjust="spacingAndGlyphs">35S:<tspan font-style="italic">YHB</tspan></text>
<text x="500.54" y="834.00" font-size="50.74" font-weight="bold" textLength="30.75" lengthAdjust="spacingAndGlyphs"><tspan font-weight="bold">e</tspan></text>
<rect x="590.30" y="825.10" width="374.50" height="319.70" fill="none" stroke="#000" stroke-width="3"/>
<line x1="683.80" y1="1144.80" x2="683.80" y2="1136.80" stroke="#000" stroke-width="2"/>
<line x1="776.30" y1="1144.80" x2="776.30" y2="1136.80" stroke="#000" stroke-width="2"/>
<line x1="869.30" y1="1144.80" x2="869.30" y2="1136.80" stroke="#000" stroke-width="2"/>
<line x1="590.30" y1="1099.12" x2="596.60" y2="1099.12" stroke="#000" stroke-width="2"/>
<line x1="590.30" y1="1053.44" x2="596.60" y2="1053.44" stroke="#000" stroke-width="2"/>
<line x1="590.30" y1="1007.76" x2="596.60" y2="1007.76" stroke="#000" stroke-width="2"/>
<line x1="590.30" y1="962.08" x2="596.60" y2="962.08" stroke="#000" stroke-width="2"/>
<line x1="590.30" y1="916.40" x2="596.60" y2="916.40" stroke="#000" stroke-width="2"/>
<line x1="590.30" y1="870.72" x2="596.60" y2="870.72" stroke="#000" stroke-width="2"/>
<text x="552.44" y="829.10" font-size="25.80" textLength="27.18" lengthAdjust="spacingAndGlyphs">14</text>
<text x="552.40" y="875.60" font-size="25.80" textLength="27.76" lengthAdjust="spacingAndGlyphs">12</text>
<text x="552.42" y="921.50" font-size="25.80" textLength="27.44" lengthAdjust="spacingAndGlyphs">10</text>
<text x="566.27" y="965.70" font-size="25.80" >8</text>
<text x="566.29" y="1012.10" font-size="25.80" >6</text>
<text x="565.91" y="1058.00" font-size="25.80" >4</text>
<text x="566.45" y="1104.20" font-size="25.80" >2</text>
<text x="566.16" y="1150.20" font-size="25.80" >0</text>
<text x="566.70" y="1176.30" font-size="29.00" textLength="39.23" lengthAdjust="spacingAndGlyphs">0.8</text>
<text x="661.88" y="1176.30" font-size="29.00" textLength="39.77" lengthAdjust="spacingAndGlyphs">0.9</text>
<text x="751.17" y="1176.30" font-size="29.00" textLength="38.82" lengthAdjust="spacingAndGlyphs">1.0</text>
<text x="848.77" y="1176.30" font-size="29.00" textLength="40.66" lengthAdjust="spacingAndGlyphs">1.1</text>
<text x="893.02" y="1172.70" font-size="29.00" textLength="38.18" lengthAdjust="spacingAndGlyphs">(R/</text>
<path d="M933.40,1152.50h7.7v2.3h-2.55v15.60h2.55v2.3h-7.7v-2.3h2.55v-15.60h-2.55z" fill="#000"/>
<text x="942.88" y="1172.70" font-size="29.00" textLength="27.33" lengthAdjust="spacingAndGlyphs">R)</text>
<g transform="translate(539.10,1130.10) rotate(-90)"><text x="-2.26" y="0" font-size="29.80" textLength="120.80" lengthAdjust="spacingAndGlyphs">Hypocotyl</text></g>
<g transform="translate(539.10,1000.10) rotate(-90)"><text x="-1.90" y="0" font-size="29.80" textLength="76.83" lengthAdjust="spacingAndGlyphs">length</text></g>
<g transform="translate(539.10,912.70) rotate(-90)"><text x="-1.76" y="0" font-size="29.80" textLength="66.12" lengthAdjust="spacingAndGlyphs">(mm)</text></g>
<line x1="689.10" y1="854.10" x2="689.10" y2="929.00" stroke="#000" stroke-width="1.7"/>
<line x1="684.25" y1="854.10" x2="693.95" y2="854.10" stroke="#000" stroke-width="1.7"/>
<line x1="684.25" y1="929.00" x2="693.95" y2="929.00" stroke="#000" stroke-width="1.7"/>
<line x1="778.00" y1="881.90" x2="778.00" y2="943.20" stroke="#000" stroke-width="1.7"/>
<line x1="773.15" y1="881.90" x2="782.85" y2="881.90" stroke="#000" stroke-width="1.7"/>
<line x1="773.15" y1="943.20" x2="782.85" y2="943.20" stroke="#000" stroke-width="1.7"/>
<line x1="877.70" y1="892.10" x2="877.70" y2="964.20" stroke="#000" stroke-width="1.7"/>
<line x1="872.85" y1="892.10" x2="882.55" y2="892.10" stroke="#000" stroke-width="1.7"/>
<line x1="872.85" y1="964.20" x2="882.55" y2="964.20" stroke="#000" stroke-width="1.7"/>
<rect x="682.05" y="883.55" width="11.70" height="13.30" fill="#fff" stroke="#000" stroke-width="1.7"/>
<rect x="770.75" y="905.25" width="11.70" height="13.30" fill="#fff" stroke="#000" stroke-width="1.7"/>
<rect x="870.55" y="921.85" width="11.70" height="13.30" fill="#fff" stroke="#000" stroke-width="1.7"/>
<line x1="689.10" y1="892.10" x2="877.00" y2="930.90" stroke="#000" stroke-width="2"/>
<line x1="689.10" y1="1006.20" x2="689.10" y2="1032.60" stroke="#000" stroke-width="1.7"/>
<line x1="684.25" y1="1006.20" x2="693.95" y2="1006.20" stroke="#000" stroke-width="1.7"/>
<line x1="684.25" y1="1032.60" x2="693.95" y2="1032.60" stroke="#000" stroke-width="1.7"/>
<line x1="877.70" y1="1077.00" x2="877.70" y2="1098.80" stroke="#000" stroke-width="1.7"/>
<line x1="872.85" y1="1077.00" x2="882.55" y2="1077.00" stroke="#000" stroke-width="1.7"/>
<line x1="872.85" y1="1098.80" x2="882.55" y2="1098.80" stroke="#000" stroke-width="1.7"/>
<rect x="681.10" y="1010.70" width="13.60" height="14.60" fill="#000" stroke="#000" stroke-width="1.0"/>
<rect x="769.80" y="1063.00" width="13.60" height="14.60" fill="#000" stroke="#000" stroke-width="1.0"/>
<rect x="869.60" y="1079.60" width="13.60" height="14.60" fill="#000" stroke="#000" stroke-width="1.0"/>
<line x1="689.10" y1="1027.30" x2="870.90" y2="1091.00" stroke="#000" stroke-width="2"/>
<rect x="857.80" y="993.60" width="90.90" height="58.10" fill="#fff" stroke="#000" stroke-width="2"/>
<rect x="864.60" y="1001.80" width="15.50" height="17.20" fill="#000" stroke="#000" stroke-width="1"/>
<rect x="864.95" y="1028.15" width="14.80" height="15.20" fill="#fff" stroke="#000" stroke-width="1.7"/>
<text x="886.67" y="1017.60" font-size="25.80" textLength="57.88" lengthAdjust="spacingAndGlyphs">Col-0</text>
<text x="888.70" y="1044.20" font-size="25.80" font-style="italic" textLength="38.83" lengthAdjust="spacingAndGlyphs"><tspan font-style="italic">hy1</tspan></text>
</svg></body></html>
